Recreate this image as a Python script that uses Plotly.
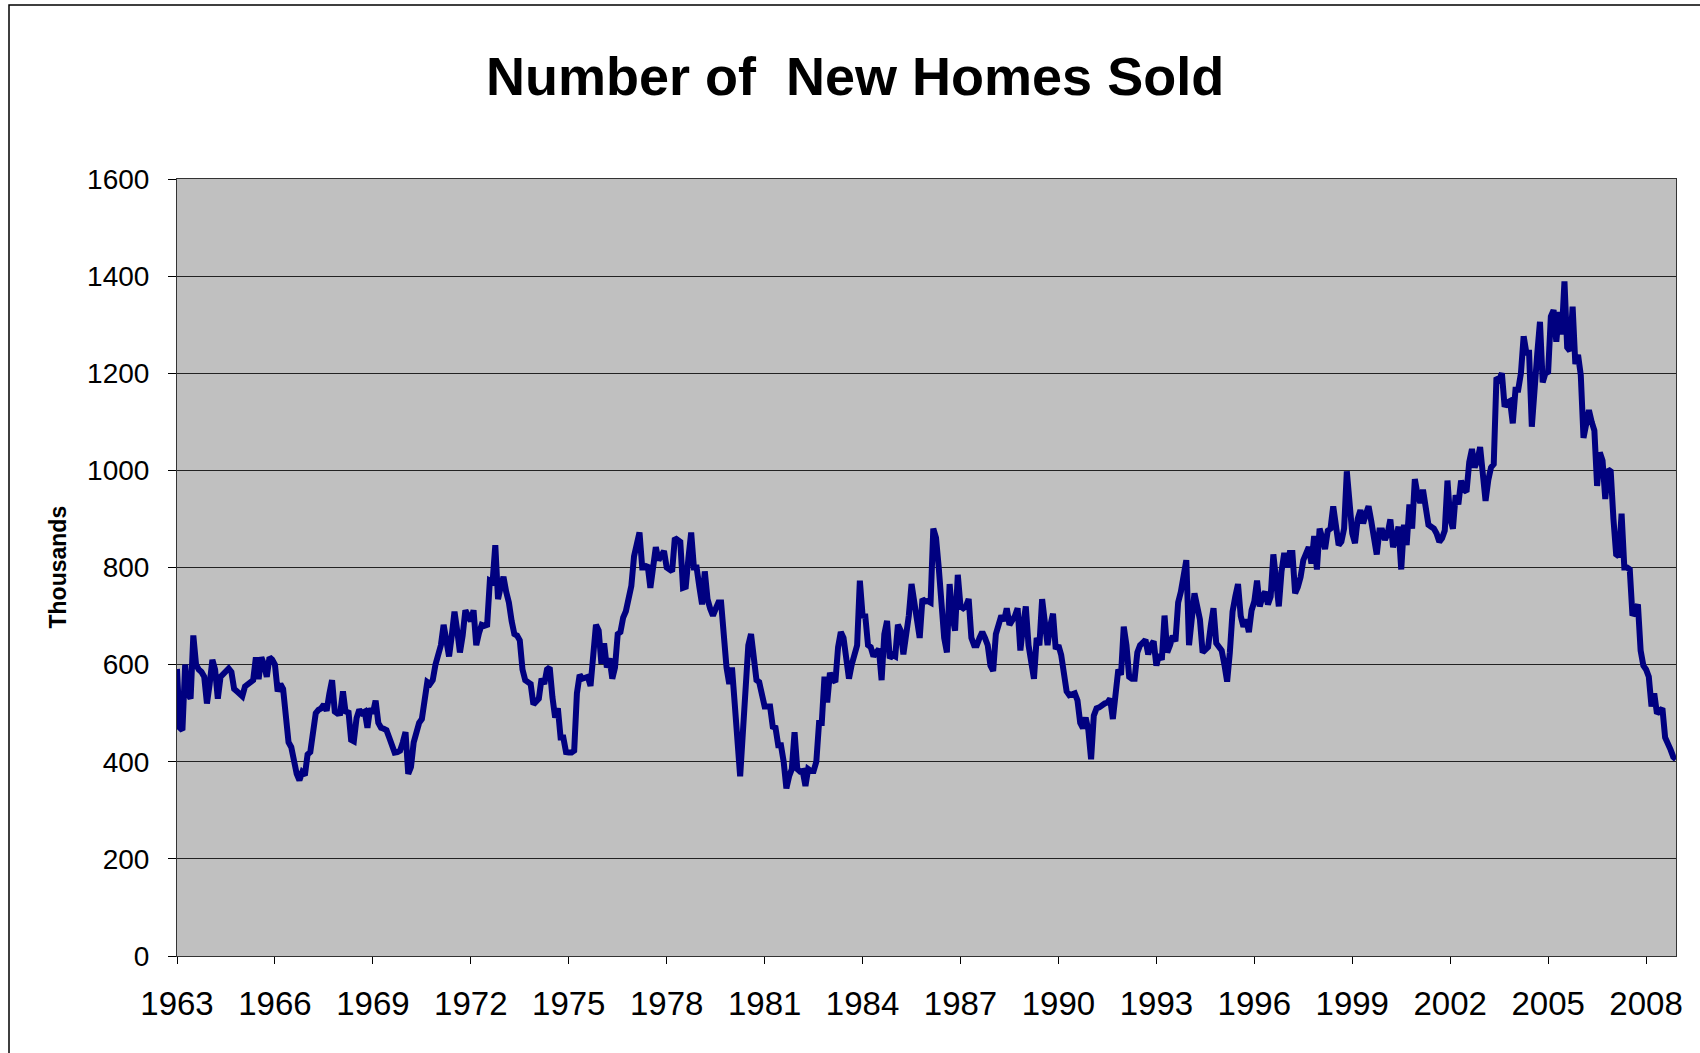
import plotly.graph_objects as go

sales_1963 = [591, 470, 465, 600, 540, 530, 660, 600, 590, 585, 575, 520]
sales_1964 = [560, 610, 590, 530, 575, 580, 585, 592, 585, 550, 545, 540]
sales_1965 = [535, 555, 560, 565, 568, 615, 570, 615, 600, 575, 615, 610]
sales_1966 = [600, 545, 560, 550, 500, 440, 430, 395, 375, 362, 378, 372]
sales_1967 = [415, 420, 470, 500, 507, 510, 518, 505, 540, 568, 503, 499]
sales_1968 = [500, 545, 500, 505, 445, 442, 490, 507, 500, 503, 470, 510]
sales_1969 = [500, 526, 480, 470, 468, 465, 450, 430, 419, 420, 423, 440]
sales_1970 = [461, 375, 389, 440, 465, 480, 488, 520, 564, 560, 568, 600]
sales_1971 = [621, 640, 682, 650, 617, 660, 709, 670, 625, 660, 712, 700]
sales_1972 = [690, 712, 640, 665, 682, 680, 682, 773, 770, 846, 735, 760]
sales_1973 = [781, 750, 728, 690, 663, 660, 650, 590, 568, 564, 560, 518]
sales_1974 = [525, 530, 571, 560, 590, 594, 533, 491, 510, 450, 450, 420]
sales_1975 = [419, 419, 423, 541, 579, 571, 573, 575, 556, 620, 682, 670]
sales_1976 = [602, 644, 594, 613, 571, 594, 663, 667, 697, 710, 731, 762]
sales_1977 = [823, 853, 872, 800, 800, 805, 758, 800, 842, 815, 825, 834]
sales_1978 = [800, 795, 792, 861, 858, 853, 758, 760, 820, 872, 800, 800]
sales_1979 = [760, 724, 792, 735, 715, 701, 715, 728, 728, 650, 594, 560]
sales_1980 = [594, 520, 420, 370, 460, 560, 640, 663, 610, 568, 564, 540]
sales_1981 = [514, 514, 514, 472, 470, 434, 434, 400, 345, 370, 385, 461]
sales_1982 = [385, 380, 381, 350, 385, 381, 381, 400, 480, 480, 575, 522]
sales_1983 = [583, 570, 564, 636, 667, 655, 620, 571, 600, 625, 640, 773]
sales_1984 = [701, 700, 640, 636, 617, 625, 632, 568, 663, 690, 613, 620]
sales_1985 = [617, 682, 670, 621, 660, 701, 766, 730, 693, 655, 735, 730]
sales_1986 = [731, 728, 880, 861, 800, 724, 655, 625, 766, 700, 670, 785]
sales_1987 = [720, 716, 720, 735, 655, 640, 640, 655, 667, 655, 640, 598]
sales_1988 = [587, 663, 680, 701, 690, 716, 682, 690, 700, 716, 629, 680]
sales_1989 = [720, 640, 600, 571, 655, 640, 735, 690, 640, 680, 705, 632]
sales_1990 = [640, 620, 579, 545, 537, 540, 541, 526, 480, 469, 491, 465]
sales_1991 = [405, 495, 510, 512, 518, 520, 522, 530, 488, 530, 590, 579]
sales_1992 = [678, 640, 575, 571, 571, 625, 640, 645, 651, 621, 640, 648]
sales_1993 = [598, 621, 610, 701, 625, 640, 659, 648, 728, 750, 777, 815]
sales_1994 = [640, 701, 747, 720, 693, 625, 630, 636, 680, 716, 644, 635]
sales_1995 = [629, 600, 565, 625, 709, 740, 766, 700, 678, 693, 667, 712]
sales_1996 = [730, 773, 720, 740, 750, 724, 740, 827, 760, 720, 792, 830]
sales_1997 = [800, 830, 830, 747, 760, 780, 815, 830, 842, 808, 865, 796]
sales_1998 = [880, 860, 838, 876, 880, 926, 890, 846, 853, 880, 998, 930]
sales_1999 = [870, 850, 900, 918, 891, 910, 926, 895, 850, 827, 876, 876]
sales_2000 = [857, 870, 899, 842, 860, 884, 796, 888, 846, 930, 880, 982]
sales_2001 = [950, 933, 960, 930, 888, 884, 880, 870, 853, 860, 876, 979]
sales_2002 = [900, 880, 949, 930, 979, 960, 956, 1017, 1044, 1006, 1020, 1048]
sales_2003 = [1000, 937, 980, 1006, 1013, 1191, 1187, 1200, 1131, 1140, 1143, 1097]
sales_2004 = [1166, 1166, 1200, 1276, 1242, 1242, 1090, 1181, 1240, 1306, 1181, 1200]
sales_2005 = [1203, 1317, 1330, 1265, 1326, 1280, 1389, 1253, 1246, 1337, 1219, 1238]
sales_2006 = [1196, 1067, 1100, 1124, 1100, 1082, 968, 1037, 1020, 941, 1002, 998]
sales_2007 = [900, 827, 823, 911, 800, 800, 796, 701, 710, 724, 629, 598]
sales_2008 = [590, 575, 514, 541, 499, 505, 510, 450, 440, 425, 410, 405]

tick_years = ["1963", "1966", "1969", "1972", "1975", "1978", "1981", "1984",
              "1987", "1990", "1993", "1996", "1999", "2002", "2005", "2008"]

all_years = [sales_1963, sales_1964, sales_1965, sales_1966, sales_1967, sales_1968,
             sales_1969, sales_1970, sales_1971, sales_1972, sales_1973, sales_1974,
             sales_1975, sales_1976, sales_1977, sales_1978, sales_1979, sales_1980,
             sales_1981, sales_1982, sales_1983, sales_1984, sales_1985, sales_1986,
             sales_1987, sales_1988, sales_1989, sales_1990, sales_1991, sales_1992,
             sales_1993, sales_1994, sales_1995, sales_1996, sales_1997, sales_1998,
             sales_1999, sales_2000, sales_2001, sales_2002, sales_2003, sales_2004,
             sales_2005, sales_2006, sales_2007, sales_2008]

values = [v for yr in all_years for v in yr]
months = list(range(len(values)))
tickvals = [(int(t) - 1963) * 12 for t in tick_years]

fig = go.Figure()
fig.add_trace(go.Scatter(x=months, y=values, mode="lines",
                         line=dict(color="#000080", width=6), showlegend=False))

L, R, T, B = 177, 24, 179, 97
W, H = 1700, 1053
pw, ph = W - L - R, H - T - B

fig.update_layout(
    width=W, height=H,
    margin=dict(l=L, r=R, t=T, b=B),
    paper_bgcolor="white",
    plot_bgcolor="#C0C0C0",
    title=dict(text="<b>Number of  New Homes Sold</b>", x=0.503, xanchor="center",
               y=1 - 76 / H, yanchor="middle",
               font=dict(family="Liberation Sans, Arial", size=54, color="black")),
    font=dict(family="Liberation Sans, Arial", color="black"),
    xaxis=dict(range=[0, len(values) - 1], tickmode="array", tickvals=tickvals,
               ticktext=tick_years, ticks="outside", ticklen=7, tickcolor="black",
               tickfont=dict(size=33), ticklabelstandoff=11, showgrid=False, zeroline=False,
               showline=True, linecolor="#333333", linewidth=1, mirror=True),
    yaxis=dict(range=[0, 1600], dtick=200, ticks="outside", ticklen=8, tickcolor="black",
               tickfont=dict(size=28), ticklabelstandoff=13, showgrid=True,
               gridcolor="#222222", gridwidth=1,
               zeroline=False, showline=True, linecolor="#333333", linewidth=1, mirror=True),
)

fig.add_annotation(text="<b>Thousands</b>", xref="paper", yref="paper",
                   x=(57 - L) / pw, y=0.5, xanchor="center", yanchor="middle",
                   textangle=-90, showarrow=False,
                   font=dict(family="Liberation Sans, Arial", size=23, color="black"))

# outer chart-area border (left and top visible)
fig.add_shape(type="rect", xref="paper", yref="paper",
              x0=(9 - L) / pw, x1=(W + 10 - L) / pw,
              y0=-(B + 10) / ph, y1=(H - B - 5) / ph,
              line=dict(color="black", width=1.5), fillcolor="rgba(0,0,0,0)", layer="below")

fig.write_html("out.html", config={"displayModeBar": False},
               post_script="document.body.style.margin='0';")
